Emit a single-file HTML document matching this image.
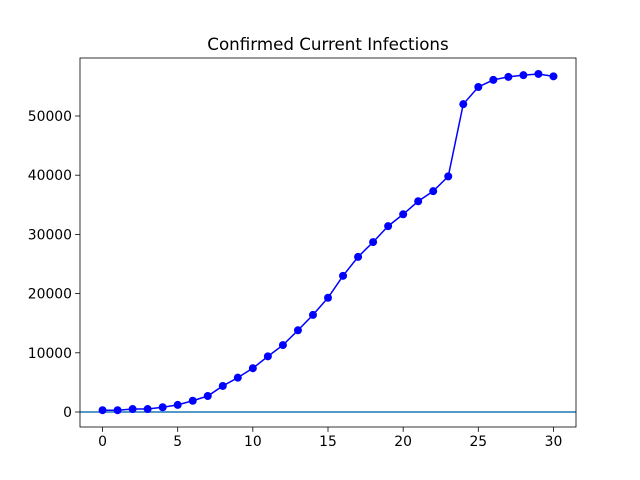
<!DOCTYPE html>
<html><head><meta charset="utf-8"><style>body{margin:0;background:#fff}svg{display:block}text{font-family:"DejaVu Sans","Liberation Sans",sans-serif;font-size:13.9px;fill:#000}</style></head>
<body>
<svg id="chart" width="640" height="480"></svg>
<script>
const days=[0,1,2,3,4,5,6,7,8,9,10,11,12,13,14,15,16,17,18,19,20,21,22,23,24,25,26,27,28,29,30];
const infections=[300,300,500,500,800,1200,1900,2700,4400,5800,7400,9400,11300,13800,16400,19300,23000,26200,28700,31400,33400,35600,37300,39800,52000,54900,56100,56600,56900,57100,56700];
const xTicks=[0,5,10,15,20,25,30];
const yTicks=[0,10000,20000,30000,40000,50000];
const titleText="Confirmed Current Infections";
const L=80,R=576,T=58,B=427;
const xMin=-1.5,xMax=31.5,yMin=-2534,yMax=59797;
const sx=v=>L+(v-xMin)/(xMax-xMin)*(R-L);
const sy=v=>B-(v-yMin)/(yMax-yMin)*(B-T);
const svg=document.getElementById('chart');const NS='http://www.w3.org/2000/svg';
function mk(t,a,p){const e=document.createElementNS(NS,t);for(const k in a)e.setAttribute(k,a[k]);(p||svg).appendChild(e);return e;}
const title=mk('text',{x:(L+R)/2,y:50,'text-anchor':'middle',style:'font-size:16.7px'});


title.textContent=titleText;
const zl=mk('line',{x1:L,x2:R,y1:sy(0),y2:sy(0),stroke:'#1f77b4','stroke-width':1.5});


const pts=days.map((d,i)=>sx(d)+','+sy(infections[i])).join(' ');
const line=mk('polyline',{points:pts,fill:'none',stroke:'#0000ff','stroke-width':1.5});


days.forEach((d,i)=>{const c=mk('circle',{cx:sx(d),cy:sy(infections[i]),r:4,fill:'#0000ff'});

});
xTicks.forEach(t=>{mk('line',{x1:sx(t),x2:sx(t),y1:B,y2:B+4.9,stroke:'#000','stroke-width':0.8});
const tx=mk('text',{x:sx(t),y:B+19,'text-anchor':'middle'});


tx.textContent=t;});
yTicks.forEach(t=>{mk('line',{x1:L-4.9,x2:L,y1:sy(t),y2:sy(t),stroke:'#000','stroke-width':0.8});
const tx=mk('text',{x:L-8,y:sy(t)+5,'text-anchor':'end'});


tx.textContent=t;});
const fr=mk('rect',{x:L,y:T,width:R-L,height:B-T,fill:'none',stroke:'#000','stroke-width':0.8});


</script>
</body></html>
